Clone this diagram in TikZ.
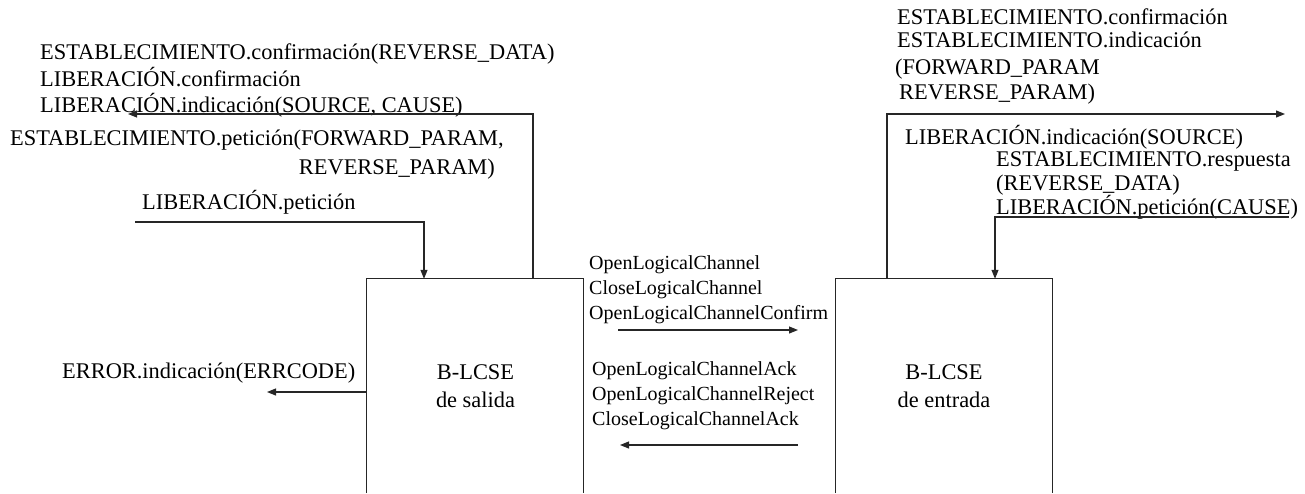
\documentclass[tikz,border=0pt]{standalone}
\usepackage{fontspec}
\setmainfont{Liberation Serif}
\usetikzlibrary{arrows.meta}
\begin{document}
\begin{tikzpicture}[x=1pt,y=-1pt,
  lbl/.style={inner sep=0pt,anchor=base west,font=\fontsize{22.4}{26}\selectfont},
  lblr/.style={inner sep=0pt,anchor=base east,font=\fontsize{22.4}{26}\selectfont},
  mid/.style={inner sep=0pt,anchor=base west,font=\fontsize{20}{24}\selectfont},
  boxn/.style={draw=none,minimum width=216pt,minimum height=214pt,inner sep=0pt},
  boxlbl/.style={align=center,inner sep=0pt,font=\fontsize{22.4}{27.5}\selectfont},
  wire/.style={line width=1.1pt,draw=black!85},
  arr/.style={wire,-{Triangle[length=9pt,width=7pt]}}]
\useasboundingbox (0,0) rectangle (1305,493);
% boxes (open at the bottom)
\node[boxn] (b1) at (475,386) {};
\node[boxn] (b2) at (944,386) {};
\draw[wire] (b1.south west) -- (b1.north west) -- (b1.north east) -- (b1.south east);
\draw[wire] (b2.south west) -- (b2.north west) -- (b2.north east) -- (b2.south east);
\node[boxlbl] (l1) at (475.5,386) {B-LCSE\\de salida};
\node[boxlbl] (l2) at (944,386) {B-LCSE\\de entrada};
% left top texts
\node[lbl] (t1) at (40,59) {ESTABLECIMIENTO.confirmación(REVERSE\_DATA)};
\node[lbl] (t2) at (40,86) {LIBERACIÓN.confirmación};
\node[lbl] (t3) at (40,112) {LIBERACIÓN.indicación(SOURCE, CAUSE)};
\node[lbl] (t4) at (10,145) {ESTABLECIMIENTO.petición(FORWARD\_PARAM,};
\node[lblr] (t5) at (495,174) {REVERSE\_PARAM)};
\node[lbl] (t6) at (142,209) {LIBERACIÓN.petición};
\node[lbl] (t7) at (62,378) {ERROR.indicación(ERRCODE)};
% middle texts
\node[mid] (m1) at (589,269) {OpenLogicalChannel};
\node[mid] (m2) at (589,294) {CloseLogicalChannel};
\node[mid] (m3) at (589,319) {OpenLogicalChannelConfirm};
\node[mid] (m4) at (592,375) {OpenLogicalChannelAck};
\node[mid] (m5) at (592,400) {OpenLogicalChannelReject};
\node[mid] (m6) at (592,425) {CloseLogicalChannelAck};
% right top texts
\node[lbl] (r1) at (897,24) {ESTABLECIMIENTO.confirmación};
\node[lbl] (r2) at (897,47) {ESTABLECIMIENTO.indicación};
\node[lbl] (r3) at (895,74) {(FORWARD\_PARAM};
\node[lbl] (r4) at (899,99) {REVERSE\_PARAM)};
\node[lbl] (r5) at (905,144) {LIBERACIÓN.indicación(SOURCE)};
\node[lbl] (r6) at (996,166) {ESTABLECIMIENTO.respuesta};
\node[lbl] (r7) at (996,190) {(REVERSE\_DATA)};
\node[lbl] (r8) at (996,214) {LIBERACIÓN.petición(CAUSE)};
% connector coordinates
\coordinate (up1) at (533,114);
\coordinate (tip1) at (128,114);
\coordinate (in1) at (135,222);
\coordinate (bend1) at (424,222);
\coordinate (err) at (267,392);
\coordinate (fwd0) at (618,330);
\coordinate (fwd1) at (798,330);
\coordinate (bwd0) at (798,445);
\coordinate (bwd1) at (620,445);
\coordinate (up2) at (887,114);
\coordinate (tip2) at (1285,114);
\coordinate (in2) at (1289,217);
\coordinate (bend2) at (995,217);
% connectors
\draw[arr] (b1.north -| up1) -- (up1) -- (tip1);
\draw[arr] (in1) -- (bend1) -- (b1.north -| bend1);
\draw[arr] (b1.west |- err) -- (err);
\draw[arr] (fwd0) -- (fwd1);
\draw[arr] (bwd0) -- (bwd1);
\draw[arr] (b2.north -| up2) -- (up2) -- (tip2);
\draw[arr] (in2) -- (bend2) -- (b2.north -| bend2);
\end{tikzpicture}
\end{document}
